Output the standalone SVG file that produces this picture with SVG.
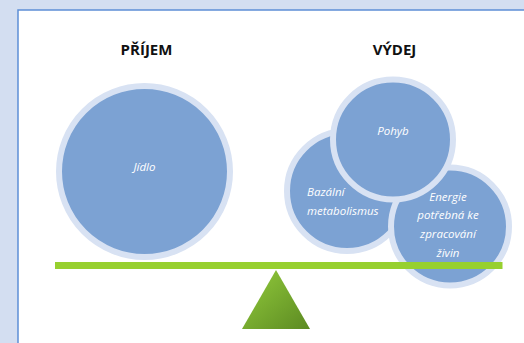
<svg xmlns="http://www.w3.org/2000/svg" width="524" height="343" viewBox="0 0 524 343">
  <defs>
    <style>
      .ring { fill: #7ca2d3; stroke: #d8e2f3; stroke-width: 6; }
      .lbl { font-family: "Open Sans", "Liberation Sans", sans-serif; font-style: italic; font-size: 11.5px; fill: #ffffff; }
      .mid { text-anchor: middle; }
      .head { font-family: "Open Sans", "Liberation Sans", sans-serif; font-weight: bold; font-size: 15px; fill: #111111; text-anchor: middle; }
    </style>
    <linearGradient id="tri" x1="0" y1="0" x2="1" y2="1">
      <stop offset="0" stop-color="#93cc3c"/>
      <stop offset="1" stop-color="#5c8a22"/>
    </linearGradient>
  </defs>
  <rect x="0" y="0" width="524" height="343" fill="#d3def1"/>
  <rect x="18" y="10" width="520" height="350" fill="#ffffff" stroke="#5d8fd6" stroke-width="1.5"/>

  <g id="heading-prijem"><text class="head" x="146.5" y="55">PŘÍJEM</text></g>
  <g id="heading-vydej"><text class="head" x="394.5" y="55">VÝDEJ</text></g>

  <g id="jidlo">
    <circle class="ring" cx="144.5" cy="171.5" r="85.5"/>
    <text class="lbl mid" x="144.5" y="171">Jídlo</text>
  </g>

  <g id="bazalni">
    <circle class="ring" cx="347" cy="191" r="60"/>
    <text class="lbl" x="307" y="196">Bazální</text>
    <text class="lbl" x="307" y="214.5">metabolismus</text>
  </g>

  <g id="energie">
    <circle class="ring" cx="450" cy="226.5" r="59"/>
    <text class="lbl mid" x="448" y="200.5">Energie</text>
    <text class="lbl mid" x="448" y="219">potřebná ke</text>
    <text class="lbl mid" x="448" y="238">zpracování</text>
    <text class="lbl mid" x="448" y="256.5">živin</text>
  </g>

  <g id="pohyb">
    <circle class="ring" cx="393" cy="139.5" r="60"/>
    <text class="lbl mid" x="393" y="135">Pohyb</text>
  </g>

  <g id="beam">
    <rect x="55" y="262" width="447.5" height="7" fill="#97d02f"/>
  </g>
  <g id="fulcrum">
    <polygon points="276,270 310,329 242,329" fill="url(#tri)"/>
  </g>
</svg>
